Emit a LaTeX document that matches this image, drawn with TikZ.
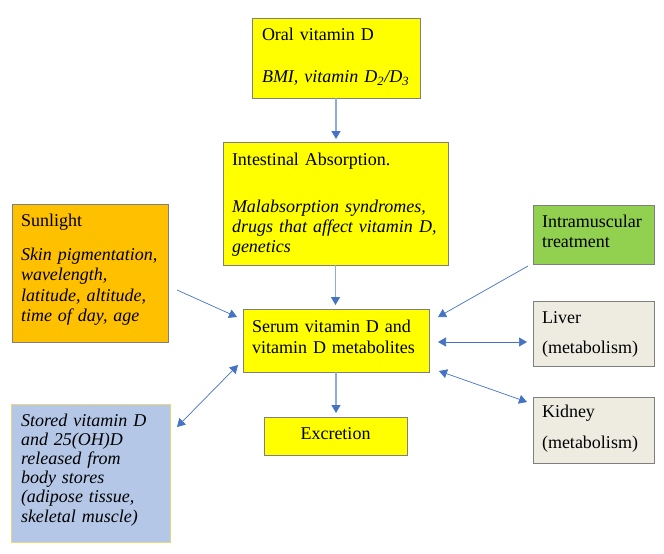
\documentclass[tikz,border=0pt]{standalone}
\usepackage{fontspec}
\setmainfont{Liberation Serif}
\usetikzlibrary{arrows.meta}
\definecolor{vyellow}{HTML}{FFFF00}
\definecolor{sunorange}{HTML}{FFC000}
\definecolor{imgreen}{HTML}{92D050}
\definecolor{organbeige}{HTML}{EEECE1}
\definecolor{storeblue}{HTML}{B4C7E7}
\definecolor{storeborder}{HTML}{EBD67E}
\definecolor{boxgray}{HTML}{7F7F7F}
\definecolor{arrowblue}{HTML}{4472C4}
\definecolor{lightarrow}{HTML}{8FAADC}
\begin{document}
\begin{tikzpicture}[x=1pt,y=-1pt,
  box/.style={draw=boxgray, line width=0.8pt, anchor=north west, inner sep=0pt, outer sep=0pt},
  txt/.style={anchor=base west, inner sep=0pt, outer sep=0pt, align=left, text width=220pt},
  conn/.style={draw=arrowblue, line width=0.7pt, -{Triangle[length=8pt,width=9pt]}},
  dconn/.style={draw=arrowblue, line width=0.7pt, {Triangle[length=8pt,width=9pt]}-{Triangle[length=8pt,width=9pt]}},
  vconn/.style={draw=lightarrow, line width=1.3pt, -{Triangle[length=8pt,width=9pt,color=arrowblue]}}
]
\useasboundingbox (0,0) rectangle (664,554);

% boxes
\node[box, fill=vyellow, minimum width=168pt, minimum height=80pt] (oral) at (252,18) {};
\node[box, fill=vyellow, minimum width=225pt, minimum height=123pt] (intest) at (223,142) {};
\node[box, fill=sunorange, minimum width=156pt, minimum height=138pt] (sun) at (12,204) {};
\node[box, fill=vyellow, minimum width=186pt, minimum height=63pt] (serum) at (243,309) {};
\node[box, fill=vyellow, minimum width=143pt, minimum height=38pt] (excr) at (264,417) {};
\node[box, draw=storeborder, fill=storeblue, minimum width=159pt, minimum height=138pt] (stored) at (11,404) {};
\node[box, fill=imgreen, minimum width=121pt, minimum height=59pt] (intra) at (533,205) {};
\node[box, fill=organbeige, minimum width=121pt, minimum height=65pt] (liver) at (533,301) {};
\node[box, fill=organbeige, minimum width=121pt, minimum height=66pt] (kidney) at (533,397) {};

% texts
\node[txt, font=\fontsize{18}{20}\selectfont] (toral) at (262,40)
  {Oral vitamin D\\[23pt]\textit{BMI, vitamin D\textsubscript{2}/D\textsubscript{3}}};
\node[txt, font=\fontsize{18}{20}\selectfont] (tintest) at (232,165)
  {Intestinal Absorption.\\[27pt]\textit{Malabsorption syndromes,}\\\textit{drugs that affect vitamin D,}\\\textit{genetics}};
\node[txt, font=\fontsize{18}{20.6}\selectfont] (tsun) at (21,226)
  {Sunlight\\[13.4pt]\textit{Skin pigmentation,}\\\textit{wavelength,}\\\textit{latitude, altitude,}\\\textit{time of day, age}};
\node[txt, font=\fontsize{18}{21}\selectfont] (tserum) at (252,332)
  {Serum vitamin D and\\vitamin D metabolites};
\node[anchor=base, inner sep=0pt, font=\fontsize{18}{20}\selectfont] (texcr) at (335.5,439) {Excretion};
\node[txt, font=\fontsize{18}{19.2}\selectfont] (tstored) at (21,426)
  {\textit{Stored vitamin D}\\\textit{and 25(OH)D}\\\textit{released from}\\\textit{body stores}\\\textit{(adipose tissue,}\\\textit{skeletal muscle)}};
\node[txt, font=\fontsize{18}{20}\selectfont] (tintra) at (542,227)
  {Intramuscular\\treatment};
\node[txt, font=\fontsize{18}{20}\selectfont] (tliver) at (542,323)
  {Liver\\[10pt](metabolism)};
\node[txt, font=\fontsize{18}{20}\selectfont] (tkidney) at (542,417)
  {Kidney\\[11pt](metabolism)};

% connectors
\draw[vconn, shorten >=3pt] (oral.south) -- (oral.south |- intest.north);
\draw[vconn, shorten >=4pt] (intest.south) -- (intest.south |- serum.north);
\draw[vconn, shorten >=4pt] (serum.south) -- (serum.south |- excr.north);
\draw[conn] ([xshift=9pt,yshift=-17pt]sun.east) -- ([xshift=-6pt,yshift=-8pt]serum.north west);
\draw[dconn] ([xshift=7pt,yshift=-23pt]stored.north east) -- ([xshift=-5pt,yshift=7pt]serum.south west);
\draw[conn] ([xshift=-5pt,yshift=-2pt]intra.south west) -- ([xshift=9pt,yshift=-8pt]serum.north east);
\draw[dconn] ([xshift=9pt,yshift=-1.5pt]serum.east) -- ([xshift=-6pt,yshift=-8.5pt]liver.west);
\draw[dconn] ([xshift=10pt,yshift=1pt]serum.south east) -- ([xshift=-6pt,yshift=-5pt]kidney.north west);
\end{tikzpicture}
\end{document}
